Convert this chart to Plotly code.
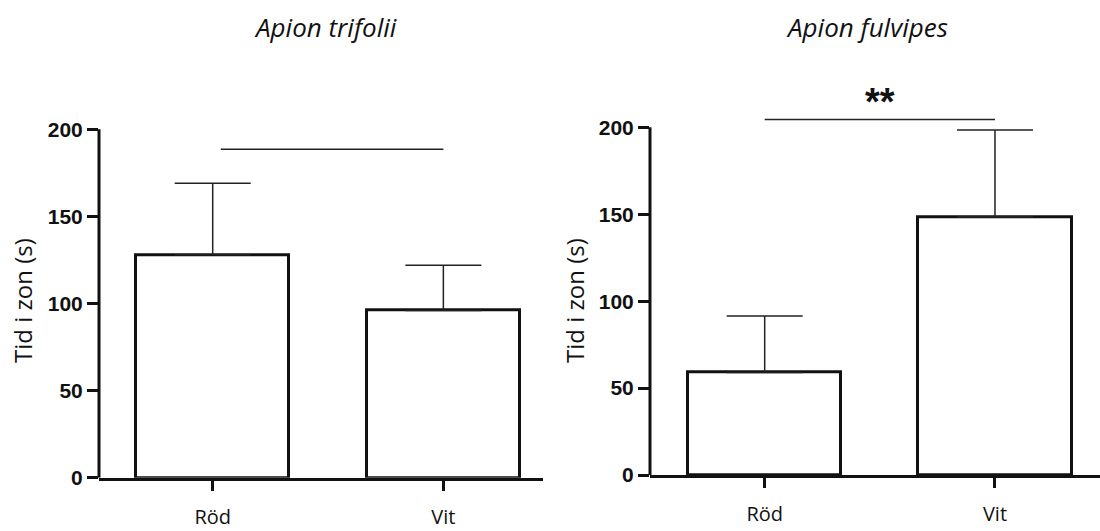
import plotly.graph_objects as go

# ---- data ----
categories = ["Röd", "Vit"]
species = ["Apion trifolii", "Apion fulvipes"]
trifolii_mean = [128, 96]
trifolii_sem = [41, 26]
fulvipes_mean = [59, 148.5]
fulvipes_sem = [32.5, 50]
bracket_level = [188.5, 204.5]
significance = ["", "**"]
y_ticks = [0, 50, 100, 150, 200]
y_title = "Tid i zon (s)"

W, H = 1100, 531
INK = "#111111"


def fx(px):
    return px / W


def fy(py):
    return (H - py) / H


YMAX = 215
panels = [
    dict(x="x", y="y", mean=trifolii_mean, sem=trifolii_sem,
         xdom=[fx(99), fx(543)], ydom=[fy(477.7), fy(477.7 - YMAX * 1.742)],
         xrange=[-0.493, 1.432], bw=0.662, bx=(0.035, 1.0),
         title_x=fx(325), ytitle_x=fx(23)),
    dict(x="x2", y="y2", mean=fulvipes_mean, sem=fulvipes_sem,
         xdom=[fx(650), 1.0], ydom=[fy(475), fy(475 - YMAX * 1.7385)],
         xrange=[-0.498, 1.456], bw=0.666, bx=(0.0, 1.0),
         title_x=fx(867), ytitle_x=fx(575)),
]

fig = go.Figure()
shapes = []
annotations = []
for i, p in enumerate(panels):
    fig.add_trace(go.Bar(
        x=categories, y=p["mean"], xaxis=p["x"], yaxis=p["y"],
        width=p["bw"],
        marker=dict(color="white", line=dict(color=INK, width=3)),
        error_y=dict(type="data", array=p["sem"], arrayminus=[0] * len(p["sem"]),
                     symmetric=False, color="#222222", thickness=1.5, width=38),
        showlegend=False, hoverinfo="skip",
    ))
    sfx = "" if i == 0 else str(i + 1)
    fig.layout["xaxis" + sfx] = dict(
        domain=p["xdom"], anchor=p["y"], range=p["xrange"], type="category",
        automargin=False,
        showline=True, linecolor=INK, linewidth=3, ticks="outside",
        ticklen=10, tickwidth=3, tickcolor=INK, showgrid=False, zeroline=False,
        ticklabelstandoff=9,
        tickfont=dict(family="Open Sans", size=20, color=INK), fixedrange=True)
    fig.layout["yaxis" + sfx] = dict(
        domain=p["ydom"], anchor=p["x"], range=[0, YMAX], tickvals=y_ticks,
        automargin=False,
        showline=False, ticks="outside", ticklen=11, tickwidth=3, tickcolor=INK,
        showgrid=False, zeroline=False,
        tickfont=dict(family="Liberation Sans", size=21, color=INK, weight="bold"),
        fixedrange=True)
    # visible y axis line, only up to the top tick
    shapes.append(dict(type="line", xref=p["x"] + " domain", yref=p["y"],
                       x0=0, x1=0, y0=y_ticks[0], y1=y_ticks[-1],
                       line=dict(color=INK, width=3)))
    # comparison bracket
    shapes.append(dict(type="line", xref=p["x"], yref=p["y"],
                       x0=p["bx"][0], x1=p["bx"][1],
                       y0=bracket_level[i], y1=bracket_level[i],
                       line=dict(color="#222222", width=1.5)))
    if significance[i]:
        annotations.append(dict(text="<b>%s</b>" % significance[i], xref=p["x"], yref=p["y"],
                                x=0.5, y=bracket_level[i], showarrow=False,
                                yanchor="bottom", yshift=-6,
                                font=dict(family="Liberation Sans", size=38,
                                          color=INK)))
    annotations.append(dict(text="<i>%s</i>" % species[i], xref="paper", yref="paper",
                            x=p["title_x"], y=fy(27), showarrow=False,
                            xanchor="center", yanchor="middle",
                            font=dict(family="Open Sans", size=26, color=INK)))
    annotations.append(dict(text=y_title, xref="paper", yref="paper",
                            x=p["ytitle_x"], y=fy(301), textangle=-90,
                            showarrow=False, xanchor="center", yanchor="middle",
                            font=dict(family="Open Sans", size=24, color=INK)))

fig.update_layout(
    width=W, height=H, margin=dict(l=0, r=0, t=0, b=0, autoexpand=False),
    paper_bgcolor="white", plot_bgcolor="white",
    shapes=shapes, annotations=annotations, bargap=0,
)
fig.write_html("out.html", config={"displayModeBar": False},
               post_script="document.body.style.margin='0';"
                           "document.body.style.overflow='hidden';")
